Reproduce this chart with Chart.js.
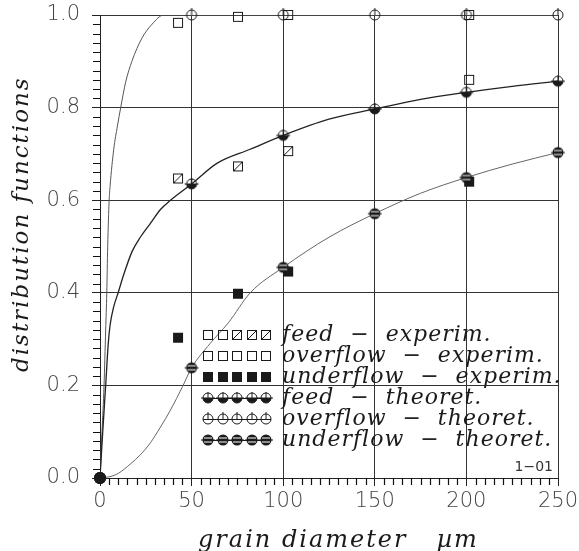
<!DOCTYPE html>
<html>
<head>
<meta charset="utf-8">
<title>distribution functions</title>
<script src="https://cdn.jsdelivr.net/npm/chart.js@4.4.0/dist/chart.umd.min.js"></script>
<style>
  html, body { margin: 0; padding: 0; background: #fff; }
  #chart { display: block; }
</style>
</head>
<body>
<canvas id="chart" width="579" height="551"></canvas>
<script>
// Theoretical curves
const overCurveX = [0, 1.1, 2.2, 3.1, 3.7, 4.2, 5, 5.5, 7.5, 9.5, 11.3, 14, 17.4, 22.9, 28.4, 34.8, 50, 100, 150, 200, 250];
const overCurveY = [0, 0.1, 0.2, 0.32, 0.4, 0.5, 0.6, 0.63, 0.71, 0.76, 0.8, 0.855, 0.9, 0.95, 0.98, 1, 1, 1, 1, 1, 1];

const feedCurveX = [0, 1.5, 3.1, 4.5, 5.5, 7.5, 9.9, 13, 17.6, 22, 27.5, 33, 38.5, 50, 64, 82, 100, 125, 150, 175, 200, 225, 250];
const feedCurveY = [0, 0.1, 0.2, 0.29, 0.33, 0.37, 0.4, 0.44, 0.49, 0.52, 0.55, 0.58, 0.6, 0.635, 0.68, 0.71, 0.74, 0.775, 0.797, 0.818, 0.833, 0.846, 0.857];

const underCurveX = [0, 5.5, 10, 16.5, 22, 27.5, 33, 38.5, 45, 50, 60, 70, 82, 100, 125, 150, 175, 200, 225, 250];
const underCurveY = [0, 0.003, 0.01, 0.03, 0.05, 0.076, 0.11, 0.147, 0.197, 0.238, 0.29, 0.335, 0.4, 0.455, 0.52, 0.571, 0.615, 0.649, 0.678, 0.703];

// Theoretical points
const theoX = [0, 50, 100, 150, 200, 250];
const feedTheo = [0, 0.635, 0.74, 0.797, 0.833, 0.857];
const overTheo = [0, 1, 1, 1, 1, 1];
const underTheo = [0, 0.238, 0.455, 0.571, 0.649, 0.703];

// Experimental points
const expX = [42.6, 75.3, 102.7, 201.5];
const feedExp = [0.647, 0.673, 0.706, 0.86];
const overExp = [0.983, 0.996, 1.0, 1.0];
const underExp = [0.303, 0.398, 0.446, 0.64];

// Minor tick values between the labelled ones
const xMinorTicks = [5, 10, 15, 20, 25, 30, 35, 40, 45];
const yMinorTicks = [0.02, 0.04, 0.06, 0.08, 0.1, 0.12, 0.14, 0.16, 0.18];

const legendLabels = [
  'feed  \u2212  experim.',
  'overflow  \u2212  experim.',
  'underflow  \u2212  experim.',
  'feed  \u2212  theoret.',
  'overflow  \u2212  theoret.',
  'underflow  \u2212  theoret.'
];

const xTitle = 'grain diameter   \u00b5m';
const yTitle = 'distribution functions';

const INK = '#1a1a1a';

// Marker images
function makeMarker(draw) {
  const c = document.createElement('canvas');
  c.width = 16; c.height = 16;
  const g = c.getContext('2d');
  g.translate(8, 8);
  g.strokeStyle = INK;
  g.fillStyle = INK;
  g.lineWidth = 1;
  draw(g);
  return c;
}

const openSq = makeMarker(g => {
  g.strokeRect(-4.5, -4.5, 9, 9);
});
const hatchSq = makeMarker(g => {
  g.strokeRect(-4.5, -4.5, 9, 9);
  g.beginPath(); g.moveTo(-4, 4); g.lineTo(4, -4); g.stroke();
});
const fillSq = makeMarker(g => {
  g.fillRect(-5, -5, 10, 10);
});
const feedMk = makeMarker(g => {
  g.beginPath(); g.arc(0, 0, 5, 0, Math.PI); g.fill();
  g.beginPath(); g.arc(0, 0, 5, 0, Math.PI * 2); g.stroke();
  g.beginPath(); g.moveTo(0, -6); g.lineTo(0, 0); g.stroke();
  g.beginPath(); g.moveTo(-7, 0); g.lineTo(7, 0); g.stroke();
});
const overMk = makeMarker(g => {
  g.beginPath(); g.arc(0, 0, 5, 0, Math.PI * 2); g.stroke();
  g.beginPath(); g.moveTo(0, -7); g.lineTo(0, 0); g.stroke();
});
const underMk = makeMarker(g => {
  g.beginPath(); g.arc(0, 0, 5.5, 0, Math.PI * 2); g.fill();
  g.strokeStyle = '#fff';
  g.beginPath(); g.moveTo(-4, -2); g.lineTo(4, -2); g.moveTo(-4, 2); g.lineTo(4, 2); g.stroke();
  g.strokeStyle = INK;
  g.beginPath(); g.moveTo(-7, 0); g.lineTo(7, 0); g.stroke();
});
const dotMk = makeMarker(g => {
  g.beginPath(); g.arc(0, 0, 6, 0, Math.PI * 2); g.fill();
});

const legendMarkers = [
  [openSq, openSq, hatchSq, hatchSq, hatchSq],
  [openSq, openSq, openSq, openSq, openSq],
  [fillSq, fillSq, fillSq, fillSq, fillSq],
  [feedMk, feedMk, feedMk, feedMk, feedMk],
  [overMk, overMk, overMk, overMk, overMk],
  [underMk, underMk, underMk, underMk, underMk]
];

function pts(xs, ys) {
  return xs.map((x, i) => ({ x: x, y: ys[i] }));
}

function curve(label, xs, ys, color, width) {
  return {
    label: label,
    data: pts(xs, ys),
    borderColor: color,
    borderWidth: width,
    pointRadius: 0,
    cubicInterpolationMode: 'monotone',
    showLine: true,
    fill: false,
    order: 10
  };
}

function markers(label, xs, ys, styles) {
  return {
    label: label,
    data: pts(xs, ys),
    showLine: false,
    pointStyle: styles,
    pointRadius: 6,
    clip: false,
    order: 1
  };
}

// Minor ticks, axis titles, legend and the "1-01" tag
const decorPlugin = {
  id: 'decor',
  afterDraw(chart) {
    const ctx = chart.ctx;
    const xs = chart.scales.x;
    const ys = chart.scales.y;
    const area = chart.chartArea;
    ctx.save();

    // minor ticks, repeated in every labelled interval
    ctx.strokeStyle = '#111';
    ctx.lineWidth = 1.2;
    ctx.beginPath();
    for (let k = 0; k < 5; k++) {
      xMinorTicks.forEach(v => {
        const px = Math.round(xs.getPixelForValue(v + k * 50)) + 0.5;
        ctx.moveTo(px, area.bottom);
        ctx.lineTo(px, area.bottom + 7);
      });
      yMinorTicks.forEach(v => {
        const py = Math.round(ys.getPixelForValue(v + k * 0.2)) + 0.5;
        ctx.moveTo(area.left, py);
        ctx.lineTo(area.left - 7, py);
      });
    }
    ctx.stroke();

    // legend
    const rowY = [335, 356, 377, 398, 419, 440];
    const markX = [208, 223, 237, 252, 266];
    ctx.font = 'italic 22px "DejaVu Serif"';
    ctx.letterSpacing = '1px';
    ctx.fillStyle = INK;
    ctx.strokeStyle = INK;
    ctx.lineWidth = 1;
    ctx.textBaseline = 'middle';
    legendLabels.forEach((label, i) => {
      if (i >= 3) {
        ctx.beginPath(); ctx.moveTo(203, rowY[i] + 0.5); ctx.lineTo(271, rowY[i] + 0.5); ctx.stroke();
      }
      legendMarkers[i].forEach((m, j) => {
        ctx.drawImage(m, Math.round(markX[j] - 8), Math.round(rowY[i] - 8));
      });
      ctx.fillText(label, 282, rowY[i]);
    });

    // axis titles
    ctx.textBaseline = 'alphabetic';
    ctx.font = 'italic 24px "DejaVu Serif"';
    ctx.letterSpacing = '2px';
    ctx.fillText(xTitle, 198, 547);

    ctx.save();
    ctx.translate(28, 372);
    ctx.rotate(-Math.PI / 2);
    ctx.font = 'italic 23px "DejaVu Serif"';
    ctx.letterSpacing = '2px';
    ctx.fillText(yTitle, 0, 0);
    ctx.restore();

    ctx.letterSpacing = '0px';
    ctx.font = '14px "DejaVu Sans"';
    ctx.textAlign = 'right';
    ctx.textBaseline = 'middle';
    ctx.fillStyle = '#333';
    ctx.fillText('1\u221201', 553, 467);
    ctx.restore();
  }
};

const tickFont = { family: '"DejaVu Sans"', size: 21, weight: '200' };

new Chart(document.getElementById('chart'), {
  type: 'scatter',
  data: {
    datasets: [
      markers('feed - theoret.', theoX, feedTheo, [dotMk, feedMk, feedMk, feedMk, feedMk, feedMk]),
      markers('underflow - theoret.', theoX, underTheo, [dotMk, underMk, underMk, underMk, underMk, underMk]),
      markers('overflow - theoret.', theoX, overTheo, [dotMk, overMk, overMk, overMk, overMk, overMk]),
      markers('feed - experim.', expX, feedExp, [hatchSq, hatchSq, hatchSq, openSq]),
      markers('overflow - experim.', expX, overExp, [openSq, openSq, openSq, openSq]),
      markers('underflow - experim.', expX, underExp, [fillSq, fillSq, fillSq, fillSq]),
      curve('feed', feedCurveX, feedCurveY, '#222', 1.3),
      curve('overflow', overCurveX, overCurveY, '#555', 1),
      curve('underflow', underCurveX, underCurveY, '#666', 1)
    ]
  },
  options: {
    responsive: false,
    animation: false,
    layout: { padding: { top: 15, right: 21, left: 0, bottom: 0 } },
    plugins: {
      legend: { display: false },
      tooltip: { enabled: false }
    },
    scales: {
      x: {
        type: 'linear',
        min: 0,
        max: 250,
        afterFit(scale) {
          scale.height = 73;
          scale.paddingLeft = 0;
          scale.paddingRight = 0;
        },
        border: { display: true, color: '#222', width: 1 },
        grid: { color: '#333', tickColor: '#222', tickLength: 8, lineWidth: 1 },
        ticks: {
          stepSize: 50,
          autoSkip: false,
          maxRotation: 0,
          padding: 3,
          color: '#444',
          font: tickFont
        },
        title: { display: false }
      },
      y: {
        type: 'linear',
        min: 0,
        max: 1,
        afterFit(scale) {
          scale.width = 100;
          scale.paddingTop = 0;
          scale.paddingBottom = 0;
        },
        border: { display: true, color: '#222', width: 1 },
        grid: { color: '#333', tickColor: '#222', tickLength: 8, lineWidth: 1 },
        ticks: {
          stepSize: 0.2,
          autoSkip: false,
          padding: 12,
          color: '#444',
          font: tickFont,
          callback: v => v.toFixed(1)
        },
        title: { display: false }
      }
    }
  },
  plugins: [decorPlugin]
});
</script>
</body>
</html>
